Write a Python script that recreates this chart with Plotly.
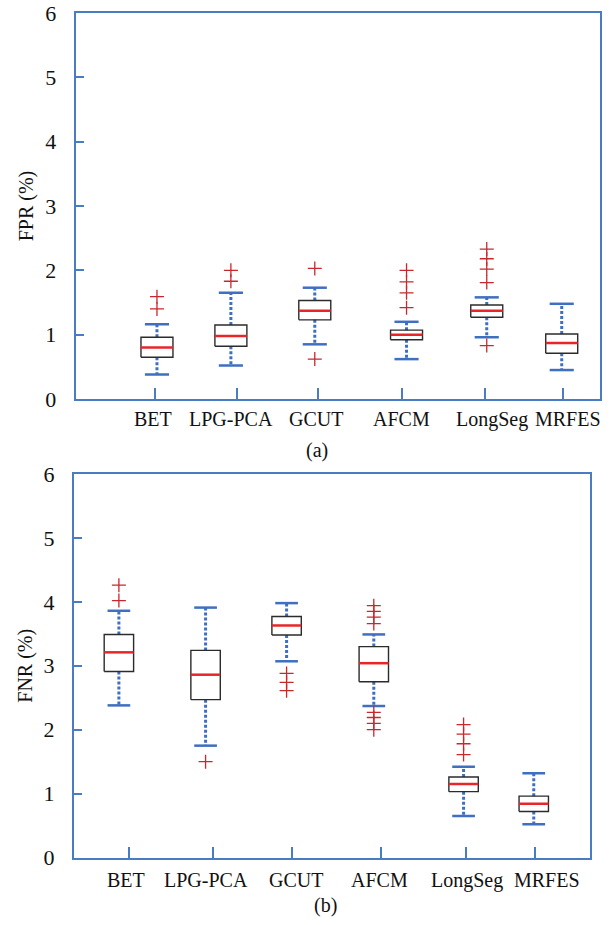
import plotly.graph_objects as go

# ---------------- data ----------------
methods = ["BET", "LPG-PCA", "GCUT", "AFCM", "LongSeg", "MRFES"]

# panel (a) FPR (%)
fpr_lower = [0.38, 0.52, 0.85, 0.62, 0.96, 0.45]
fpr_q1 = [0.65, 0.82, 1.23, 0.92, 1.27, 0.71]
fpr_median = [0.80, 0.98, 1.37, 1.00, 1.37, 0.87]
fpr_q3 = [0.96, 1.15, 1.53, 1.07, 1.46, 1.01]
fpr_upper = [1.16, 1.65, 1.73, 1.20, 1.58, 1.48]
fpr_outliers = [
    [1.40, 1.59],
    [1.83, 2.00],
    [0.62, 2.03],
    [1.42, 1.65, 1.82, 2.00],
    [0.83, 1.81, 2.02, 2.18, 2.33],
    [],
]

# panel (b) FNR (%)
fnr_lower = [2.38, 1.75, 3.07, 2.37, 0.65, 0.52]
fnr_q1 = [2.91, 2.47, 3.48, 2.75, 1.03, 0.72]
fnr_median = [3.21, 2.86, 3.63, 3.04, 1.15, 0.84]
fnr_q3 = [3.49, 3.24, 3.77, 3.30, 1.26, 0.96]
fnr_upper = [3.86, 3.91, 3.98, 3.49, 1.42, 1.32]
fnr_outliers = [
    [4.02, 4.26],
    [1.50],
    [2.61, 2.74, 2.88],
    [2.00, 2.10, 2.19, 2.27, 3.66, 3.76, 3.85, 3.94],
    [1.61, 1.78, 1.93, 2.08],
    [],
]

# ---------------- layout helpers (positions on a 0-100 x scale) ----------------
box_pos_a = [15.5, 29.6, 45.6, 63.1, 78.4, 92.7]
tick_pos_a = [15.1, 30.7, 46.2, 62.2, 78.1, 92.9]
label_pos_a = [14.7, 29.6, 45.8, 62.2, 79.4, 93.9]
box_pos_b = [8.7, 25.5, 41.2, 58.1, 75.5, 89.1]
tick_pos_b = [10.7, 26.9, 42.3, 59.5, 76.0, 89.3]
label_pos_b = [10.1, 25.6, 43.0, 59.3, 76.2, 91.7]

FRAME = "#4a7cc4"
WHISK = "#3f6fc0"
MED = "#e8262a"
OUT = "#c8282d"
BOXC = "#2b2b2b"
FONT = "Liberation Serif"
H = 925.0
W = 613.0

fig = go.Figure()


def add_panel(xa, ya, pos, lower, q1, med, q3, upper, outl, bw, cw):
    for i in range(len(pos)):
        c = pos[i]
        # whiskers (dotted)
        fig.add_trace(go.Scatter(
            x=[c, c, None, c, c], y=[q3[i], upper[i], None, q1[i], lower[i]],
            mode="lines", line=dict(color=WHISK, width=3, dash="3px,2px"),
            xaxis=xa, yaxis=ya, hoverinfo="skip", showlegend=False))
        # caps
        fig.add_trace(go.Scatter(
            x=[c - cw / 2, c + cw / 2, None, c - cw / 2, c + cw / 2],
            y=[upper[i], upper[i], None, lower[i], lower[i]],
            mode="lines", line=dict(color=WHISK, width=2.5),
            xaxis=xa, yaxis=ya, hoverinfo="skip", showlegend=False))
        # box
        fig.add_trace(go.Scatter(
            x=[c - bw / 2, c + bw / 2, c + bw / 2, c - bw / 2, c - bw / 2],
            y=[q1[i], q1[i], q3[i], q3[i], q1[i]],
            mode="lines", line=dict(color=BOXC, width=1.4),
            xaxis=xa, yaxis=ya, hoverinfo="skip", showlegend=False))
        # median
        fig.add_trace(go.Scatter(
            x=[c - bw / 2, c + bw / 2], y=[med[i], med[i]],
            mode="lines", line=dict(color=MED, width=2.5),
            xaxis=xa, yaxis=ya, hoverinfo="skip", showlegend=False))
        # outliers
        if outl[i]:
            fig.add_trace(go.Scatter(
                x=[c] * len(outl[i]), y=outl[i], mode="markers",
                marker=dict(symbol="cross-thin", size=10,
                            line=dict(color=OUT, width=1.3)),
                xaxis=xa, yaxis=ya, hoverinfo="skip", showlegend=False))


add_panel("x", "y", box_pos_a, fpr_lower, fpr_q1, fpr_median, fpr_q3,
          fpr_upper, fpr_outliers, 6.1, 4.6)
add_panel("x2", "y2", box_pos_b, fnr_lower, fnr_q1, fnr_median, fnr_q3,
          fnr_upper, fnr_outliers, 5.7, 4.4)

xcommon = dict(range=[0, 100], showline=True, mirror=True, linecolor=FRAME,
               linewidth=2, ticks="inside", ticklen=11, tickwidth=2,
               tickcolor=FRAME, showgrid=False, zeroline=False,
               showticklabels=False, automargin=False)
ycommon = dict(range=[0, 6], showline=True, mirror=True, linecolor=FRAME,
               linewidth=2, ticks="inside", ticklen=8, tickwidth=2,
               tickcolor=FRAME, showgrid=False, zeroline=False,
               tickvals=[0, 1, 2, 3, 4, 5, 6], automargin=False,
               tickfont=dict(family=FONT, size=22, color="#111"),
               ticklabelstandoff=13)

annots = []
for i, name in enumerate(methods):
    annots.append(dict(text=name, x=label_pos_a[i], xref="x", y=1 - 419 / H,
                       yref="paper", yanchor="middle", xanchor="center",
                       showarrow=False,
                       font=dict(family=FONT, size=20, color="#111")))
    annots.append(dict(text=name, x=label_pos_b[i], xref="x2", y=1 - 880 / H,
                       yref="paper", yanchor="middle", xanchor="center",
                       showarrow=False,
                       font=dict(family=FONT, size=20, color="#111")))
annots.append(dict(text="(a)", x=317 / W, y=1 - 450 / H, xref="paper",
                   yref="paper", yanchor="middle", xanchor="center",
                   showarrow=False,
                   font=dict(family=FONT, size=20, color="#111")))
annots.append(dict(text="(b)", x=325 / W, y=1 - 905 / H, xref="paper",
                   yref="paper", yanchor="middle", xanchor="center",
                   showarrow=False,
                   font=dict(family=FONT, size=20, color="#111")))

fig.update_layout(
    width=613, height=925,
    margin=dict(l=0, r=0, t=0, b=0),
    paper_bgcolor="white", plot_bgcolor="white",
    showlegend=False,
    xaxis=dict(xcommon, domain=[75.7 / W, 600 / W], anchor="y",
               tickvals=tick_pos_a),
    yaxis=dict(ycommon, domain=[1 - 399 / H, 1 - 13 / H], anchor="x",
               title=dict(text="FPR (%)", standoff=6,
                          font=dict(family=FONT, size=20, color="#111"))),
    xaxis2=dict(xcommon, domain=[74 / W, 590 / W], anchor="y2",
                tickvals=tick_pos_b),
    yaxis2=dict(ycommon, domain=[1 - 857.5 / H, 1 - 474 / H], anchor="x2",
                title=dict(text="FNR (%)", standoff=6,
                           font=dict(family=FONT, size=20, color="#111"))),
    annotations=annots,
)

fig.write_html("out.html")
